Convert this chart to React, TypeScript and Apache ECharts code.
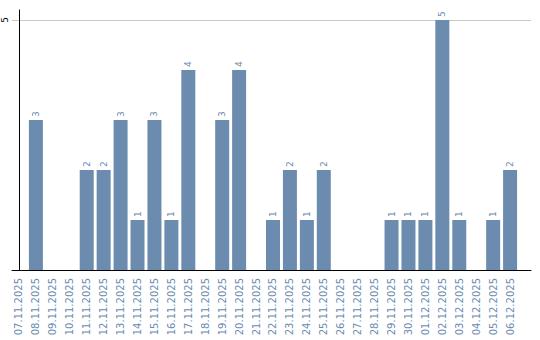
import React, { useEffect, useRef } from "react";
import * as echarts from "echarts";

const dates = [
  "07.11.2025", "08.11.2025", "09.11.2025", "10.11.2025", "11.11.2025",
  "12.11.2025", "13.11.2025", "14.11.2025", "15.11.2025", "16.11.2025",
  "17.11.2025", "18.11.2025", "19.11.2025", "20.11.2025", "21.11.2025",
  "22.11.2025", "23.11.2025", "24.11.2025", "25.11.2025", "26.11.2025",
  "27.11.2025", "28.11.2025", "29.11.2025", "30.11.2025", "01.12.2025",
  "02.12.2025", "03.12.2025", "04.12.2025", "05.12.2025", "06.12.2025",
];
const counts = [
  0, 3, 0, 0, 2, 2, 3, 1, 3, 1,
  4, 0, 3, 4, 0, 1, 2, 1, 2, 0,
  0, 0, 1, 1, 1, 5, 1, 0, 1, 2,
];
const yTicks = [5];

const BAR = "#6b8cae";
const LABEL = "#6a8bb0";
const FONT = "DejaVu Sans";

export default function App() {
  const ref = useRef<HTMLDivElement>(null);
  useEffect(() => {
    if (!ref.current) return;
    const chart = echarts.init(ref.current, undefined, { renderer: "svg" });
    const xMin = -7 / 17;
    const xMax = xMin + 521 / 17;
    chart.setOption({
      animation: false,
      grid: { left: 10, right: 9, top: 10, bottom: 70, containLabel: false },
      xAxis: {
        type: "value",
        min: xMin,
        max: xMax,
        axisLine: { show: true, onZero: false, lineStyle: { color: "#000", width: 1 } },
        axisTick: { show: false },
        splitLine: { show: false },
        axisLabel: {
          customValues: dates.map((_, i) => i),
          formatter: (v: number) => dates[Math.round(v)] ?? "",
          rotate: 90,
          fontSize: 10,
          fontFamily: FONT,
          color: LABEL,
          margin: 8,
          showMinLabel: true,
          showMaxLabel: true,
          hideOverlap: false,
        },
      },
      yAxis: {
        type: "value",
        min: 0,
        max: 5.2,
        interval: 5,
        axisLine: { show: true, lineStyle: { color: "#000", width: 1 } },
        axisTick: { show: false },
        splitLine: {
          show: true,
          lineStyle: { color: ["rgba(0,0,0,0)", "#c8c8c8", "rgba(0,0,0,0)"], width: 1 },
        },
        axisLabel: {
          formatter: (v: number) => (yTicks.includes(v) ? String(v) : ""),
          rotate: 90,
          fontSize: 9,
          fontFamily: FONT,
          color: "#000",
          margin: 3,
        },
      },
      series: [
        {
          type: "bar",
          barWidth: 14,
          data: counts.map((v, i) => [i, v]),
          itemStyle: { color: BAR },
          label: {
            show: true,
            position: "top",
            rotate: 90,
            align: "left",
            verticalAlign: "middle",
            distance: 3,
            fontSize: 9,
            fontFamily: FONT,
            color: LABEL,
            formatter: (p: any) => (p.value[1] ? String(p.value[1]) : ""),
          },
        },
      ],
    });
    return () => chart.dispose();
  }, []);
  return <div ref={ref} style={{ width: 540, height: 340, position: "absolute", left: 0, top: 0 }} />;
}
